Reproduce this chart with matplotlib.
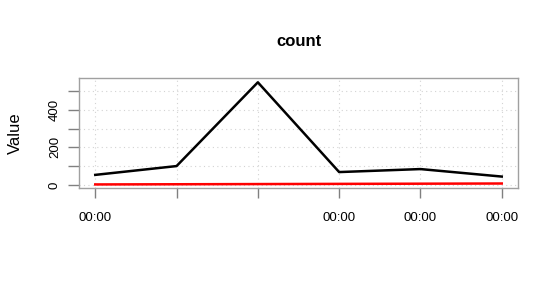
import numpy as np
import matplotlib
matplotlib.use("Agg")
import matplotlib.pyplot as plt

plt.rcParams['font.family'] = ['Liberation Sans', 'DejaVu Sans']

# data
x_pos = [0, 1, 2, 3, 4, 5]
x_labels = ['00:00', '', '', '00:00', '00:00', '00:00']
count_black = [53, 100, 547, 68, 84, 44]
count_red = [2, 3, 4, 5, 6, 7]
y_ticks = [0, 100, 200, 300, 400, 500]
y_labels = ['0', '', '200', '', '400', '']

fig = plt.figure(figsize=(5.59, 2.87), dpi=100)
ax = fig.add_axes([79 / 559, 1 - 188 / 287, 439 / 559, 110 / 287])

# dotted grid
for yv in y_ticks:
    ax.axhline(yv, color='#d3d3d3', lw=0.8, ls=(0, (1, 3)), zorder=0)
for xv in x_pos:
    ax.axvline(xv, color='#d3d3d3', lw=0.8, ls=(0, (1, 3)), zorder=0)

ax.plot(x_pos, count_black, color='black', lw=1.8, zorder=3)
ax.plot(x_pos, count_red, color='red', lw=1.8, zorder=3)

ax.set_xlim(-0.2, 5.2)
ax.set_ylim(-17, 570)

for s in ax.spines.values():
    s.set_color('#a0a0a0')
    s.set_linewidth(1.0)

ax.set_xticks(x_pos)
ax.set_xticklabels(x_labels, fontsize=9.5)
ax.set_yticks(y_ticks)
ax.set_yticklabels(y_labels, fontsize=9.5, rotation=90, va='center')
ax.tick_params(axis='x', length=7.5, width=1.0, color='#808080', pad=10)
ax.tick_params(axis='y', length=8, width=1.0, color='#808080', pad=5)

ax.set_ylabel('Value', fontsize=12, labelpad=19)
fig.text(299 / 559, 1 - 42 / 287, 'count', fontsize=12, fontweight='bold',
         ha='center', va='center')

fig.savefig('out.png', dpi=100)
